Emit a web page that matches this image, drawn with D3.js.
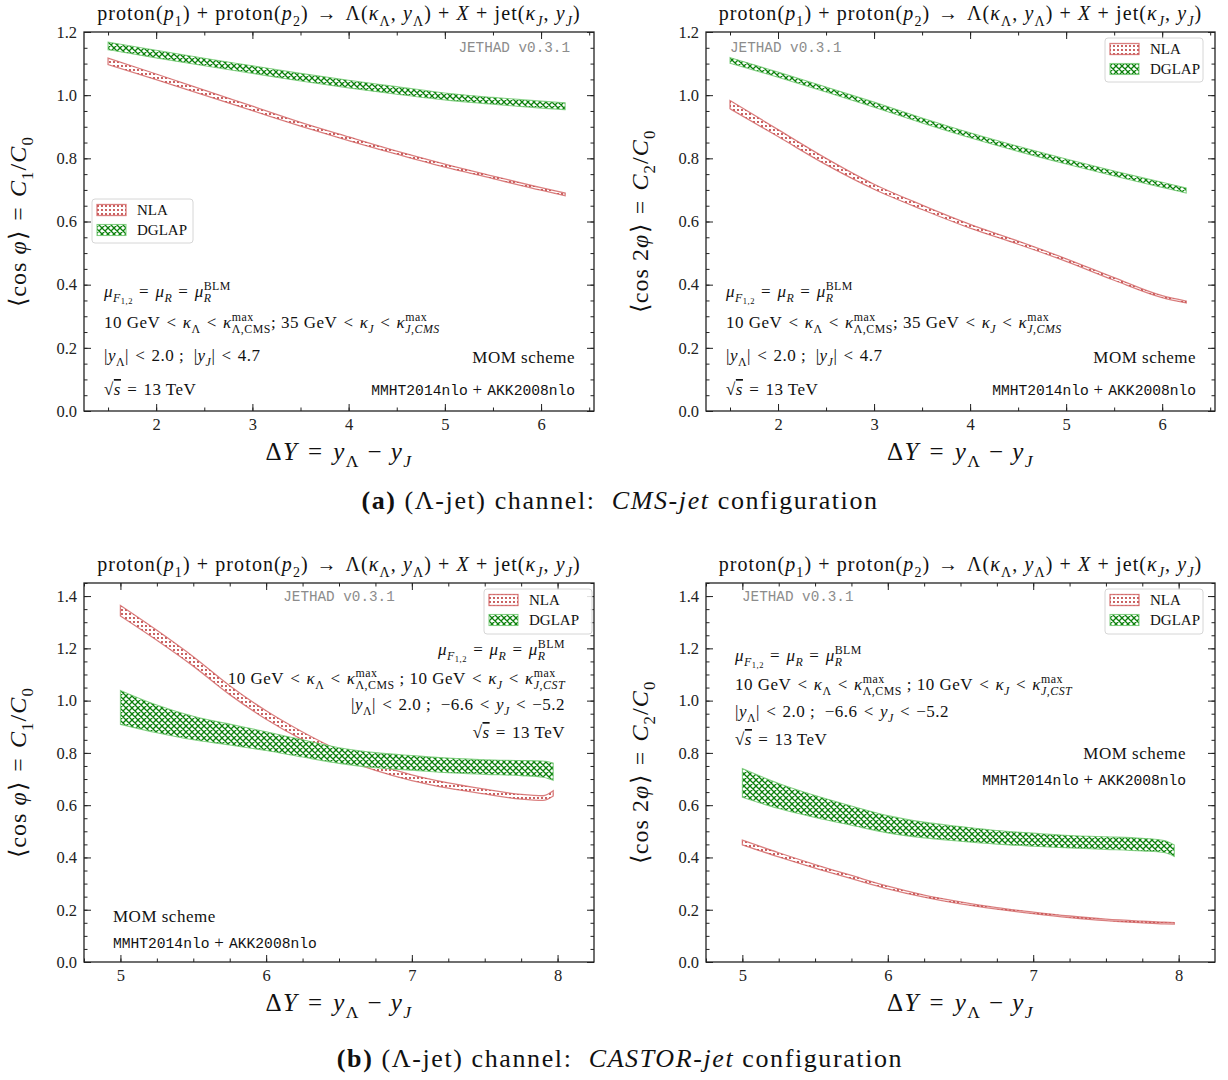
<!DOCTYPE html>
<html><head><meta charset="utf-8">
<script src="https://cdn.jsdelivr.net/npm/d3@7"></script>
<style>body{margin:0;background:#fff}text{white-space:pre}</style>
</head><body>
<svg id="c" width="1228" height="1080"></svg>
<script>
// ---------- DATA ----------
const aX = [1.5, 2, 2.5, 3, 3.5, 4, 4.5, 5, 5.5, 6, 6.25];
const aC1_NLA      = [1.107, 1.058, 1.008, 0.958, 0.908, 0.862, 0.818, 0.777, 0.740, 0.703, 0.686];
const aC1_NLA_hw   = [0.010, 0.009, 0.008, 0.007, 0.006, 0.006, 0.005, 0.005, 0.004, 0.004, 0.004];
const aC1_DGLAP    = [1.156, 1.130, 1.105, 1.081, 1.057, 1.035, 1.015, 0.996, 0.982, 0.970, 0.965];
const aC1_DGLAP_hw = [0.012, 0.012, 0.012, 0.012, 0.012, 0.012, 0.012, 0.011, 0.011, 0.011, 0.011];
const aC2_NLA      = [0.970, 0.880, 0.790, 0.710, 0.645, 0.585, 0.533, 0.478, 0.418, 0.362, 0.345];
const aC2_NLA_hw   = [0.013, 0.011, 0.010, 0.008, 0.007, 0.006, 0.005, 0.004, 0.004, 0.003, 0.003];
const aC2_DGLAP    = [1.110, 1.065, 1.018, 0.970, 0.920, 0.873, 0.830, 0.790, 0.752, 0.716, 0.698];
const aC2_DGLAP_hw = [0.009, 0.008, 0.008, 0.008, 0.008, 0.008, 0.008, 0.008, 0.008, 0.008, 0.008];

const bX = [5, 5.25, 5.5, 5.75, 6, 6.25, 6.5, 6.75, 7, 7.25, 7.5, 7.75, 7.9, 7.97];
const bC1_NLA      = [1.344, 1.250, 1.150, 1.040, 0.945, 0.865, 0.797, 0.745, 0.705, 0.675, 0.652, 0.632, 0.627, 0.645];
const bC1_NLA_hw   = [0.020, 0.019, 0.018, 0.017, 0.016, 0.015, 0.013, 0.012, 0.011, 0.010, 0.009, 0.009, 0.009, 0.010];
const bC1_DGLAP    = [0.974, 0.930, 0.895, 0.870, 0.845, 0.817, 0.790, 0.772, 0.762, 0.752, 0.746, 0.742, 0.738, 0.728];
const bC1_DGLAP_hw = [0.065, 0.053, 0.045, 0.040, 0.036, 0.033, 0.030, 0.029, 0.028, 0.028, 0.028, 0.029, 0.031, 0.033];
const bC2_NLA      = [0.457, 0.410, 0.366, 0.325, 0.285, 0.252, 0.226, 0.205, 0.188, 0.173, 0.161, 0.153, 0.149, 0.148];
const bC2_NLA_hw   = [0.009, 0.008, 0.007, 0.006, 0.005, 0.004, 0.004, 0.003, 0.003, 0.003, 0.003, 0.003, 0.003, 0.003];
const bC2_DGLAP    = [0.685, 0.635, 0.595, 0.560, 0.527, 0.505, 0.490, 0.477, 0.468, 0.460, 0.455, 0.449, 0.442, 0.426];
const bC2_DGLAP_hw = [0.055, 0.048, 0.042, 0.037, 0.033, 0.030, 0.028, 0.026, 0.025, 0.024, 0.024, 0.024, 0.023, 0.022];

const legendLabels = ["NLA", "DGLAP"];
const aYTicks = [0.0, 0.2, 0.4, 0.6, 0.8, 1.0, 1.2];
const bYTicks = [0.0, 0.2, 0.4, 0.6, 0.8, 1.0, 1.2, 1.4];
const aXTicks = [2, 3, 4, 5, 6];
const bXTicks = [5, 6, 7, 8];

// ---------- RENDER ----------
const SERIF = "'Liberation Serif','Times New Roman',serif";
const MONO = "'Liberation Mono','DejaVu Sans Mono',monospace";
const svg = d3.select("#c");
const defs = svg.append("defs");
const pd = defs.append("pattern").attr("id","dots").attr("patternUnits","userSpaceOnUse").attr("width",4).attr("height",4);
pd.append("rect").attr("width",4).attr("height",4).attr("fill","#fff");
pd.append("circle").attr("cx",2).attr("cy",2).attr("r",0.9).attr("fill","#b01818");
const px = defs.append("pattern").attr("id","xhatch").attr("patternUnits","userSpaceOnUse").attr("width",6).attr("height",6);
px.append("rect").attr("width",6).attr("height",6).attr("fill","#fff");
px.append("path").attr("d","M0,0L6,6M6,0L0,6M-1,5L1,7M5,-1L7,1M-1,1L1,-1M5,7L7,5").attr("stroke","#0b800b").attr("stroke-width",1.3).attr("fill","none");

const styles = {
  NLA: {fill:"url(#dots)", stroke:"rgba(205,85,85,0.75)", sw:1.3},
  DGLAP: {fill:"url(#xhatch)", stroke:"rgba(110,200,110,0.8)", sw:1.1}
};

// rich text: segments [type, text(, text2)]
function rich(g, x, y, segs, opt) {
  const fs = opt.size || 15;
  const t = g.append("text").attr("x", x).attr("y", y)
    .attr("font-family", opt.family || SERIF).attr("font-size", fs)
    .attr("text-anchor", opt.anchor || "start").attr("fill", opt.fill || "#111");
  if (opt.ls) t.attr("letter-spacing", opt.ls);
  if (opt.transform) t.attr("transform", opt.transform);
  let cur = 0, pendingDx = 0;
  function add(txt, off, size, italic, fam, weight, deco) {
    const ts = t.append("tspan").text(txt);
    const dy = (off - cur) * fs; cur = off;
    if (dy) ts.attr("dy", dy);
    if (pendingDx) { ts.attr("dx", pendingDx); pendingDx = 0; }
    if (size !== 1) ts.attr("font-size", fs * size);
    if (italic) ts.attr("font-style", "italic");
    if (fam) ts.attr("font-family", fam).attr("letter-spacing", 0);
    if (weight) ts.attr("font-weight", weight);
    if (deco) ts.style("text-decoration", deco);
    return ts;
  }
  segs.forEach(s => {
    const [k, a, b] = s;
    if (k === "r") add(a, 0, 1, false);
    else if (k === "i") add(a, 0, 1, true);
    else if (k === "io") add(a, 0, 1, true, null, null, "overline");
    else if (k === "b") add(a, 0, 1, false, null, "bold");
    else if (k === "tt") add(a, 0, 0.86, false, MONO);
    else if (k === "sub") add(a, 0.28, 0.7, false);
    else if (k === "isub") add(a, 0.28, 0.7, true);
    else if (k === "sub2") add(a, 0.42, 0.5, false);
    else if (k === "sup") add(a, -0.42, 0.7, false);
    else if (k === "ss" || k === "iss") {
      const up = add(a, -0.4, 0.7, false);
      const l1 = up.node().getComputedTextLength();
      pendingDx = -l1;
      const dn = add(b, 0.3, 0.7, k === "iss");
      const l2 = dn.node().getComputedTextLength();
      if (l1 > l2) pendingDx = l1 - l2;
    }
  });
  return t;
}

const R = "\u2004"; // relation spacing
const titleSegs = [["r","proton("],["i","p"],["sub","1"],["r",") + proton("],["i","p"],["sub","2"],["r",`)${R}→${R}Λ(`],["i","κ"],["sub","Λ"],["r",", "],["i","y"],["sub","Λ"],["r",") + "],["i","X"],["r"," + jet("],["i","κ"],["isub","J"],["r",", "],["i","y"],["isub","J"],["r",")"]];
const xlabSegs = [["r","Δ"],["i","Y"],["r",`${R}=${R}`],["i","y"],["sub","Λ"],["r"," − "],["i","y"],["isub","J"]];
const yC1Segs = [["r","⟨cos "],["i","φ"],["r",`⟩${R}=${R}`],["i","C"],["sub","1"],["r","/"],["i","C"],["sub","0"]];
const yC2Segs = [["r","⟨cos 2"],["i","φ"],["r",`⟩${R}=${R}`],["i","C"],["sub","2"],["r","/"],["i","C"],["sub","0"]];
const muSegs = [["i","μ"],["isub","F"],["sub2","1,2"],["r",`${R}=${R}`],["i","μ"],["isub","R"],["r",`${R}=${R}`],["i","μ"],["iss","BLM","R"]];
const kCMS = [["r",`10 GeV${R}<${R}`],["i","κ"],["sub","Λ"],["r",`${R}<${R}`],["i","κ"],["ss","max","Λ,CMS"],["r",`; 35 GeV${R}<${R}`],["i","κ"],["isub","J"],["r",`${R}<${R}`],["i","κ"],["iss","max","J,CMS"]];
const kCST = [["r",`10 GeV${R}<${R}`],["i","κ"],["sub","Λ"],["r",`${R}<${R}`],["i","κ"],["ss","max","Λ,CMS"],["r",` ; 10 GeV${R}<${R}`],["i","κ"],["isub","J"],["r",`${R}<${R}`],["i","κ"],["iss","max","J,CST"]];
const yCMS = [["r","|"],["i","y"],["sub","Λ"],["r",`|${R}<${R}2.0 ;  |`],["i","y"],["isub","J"],["r",`|${R}<${R}4.7`]];
const yCST = [["r","|"],["i","y"],["sub","Λ"],["r",`|${R}<${R}2.0 ;  −6.6${R}<${R}`],["i","y"],["isub","J"],["r",`${R}<${R}−5.2`]];
const sqrtS = [["r","√"],["io","s"],["r",`${R}=${R}13 TeV`]];
const pdfSegs = [["tt","MMHT2014nlo"],["r"," + "],["tt","AKK2008nlo"]];

const panels = [
  {L:84, R:594, T:32, B:411, xd:[1.25,6.55], yd:[0,1.2], xt:aXTicks, yt:aYTicks, xmin:0.5, X:aX,
   nla:aC1_NLA, nlaw:aC1_NLA_hw, dg:aC1_DGLAP, dgw:aC1_DGLAP_hw, ylab:yC1Segs,
   leg:{x:92,y:199,w:101,h:44}, jet:{x:570,y:52,a:"end"},
   notes:[[muSegs,104,297,"start"],[kCMS,104,328,"start"],[yCMS,104,361,"start"],[sqrtS,104,395,"start"],[[["r","MOM scheme"]],575,363,"end"],[pdfSegs,575,395,"end"]]},
  {L:706, R:1215, T:32, B:411, xd:[1.25,6.55], yd:[0,1.2], xt:aXTicks, yt:aYTicks, xmin:0.5, X:aX,
   nla:aC2_NLA, nlaw:aC2_NLA_hw, dg:aC2_DGLAP, dgw:aC2_DGLAP_hw, ylab:yC2Segs,
   leg:{x:1105,y:38,w:98,h:44}, jet:{x:730,y:52,a:"start"},
   notes:[[muSegs,726,297,"start"],[kCMS,726,328,"start"],[yCMS,726,361,"start"],[sqrtS,726,395,"start"],[[["r","MOM scheme"]],1196,363,"end"],[pdfSegs,1196,395,"end"]]},
  {L:84, R:594, T:583, B:962, xd:[4.75,8.25], yd:[0,1.45], xt:bXTicks, yt:bYTicks, xmin:0.25, X:bX,
   nla:bC1_NLA, nlaw:bC1_NLA_hw, dg:bC1_DGLAP, dgw:bC1_DGLAP_hw, ylab:yC1Segs,
   leg:{x:484,y:589,w:108,h:45}, jet:{x:339,y:601,a:"middle"},
   notes:[[muSegs,565,655,"end"],[kCST,565,684,"end"],[yCST,565,710,"end"],[sqrtS,565,738,"end"],[[["r","MOM scheme"]],113,922,"start"],[pdfSegs,113,948,"start"]]},
  {L:706, R:1215, T:583, B:962, xd:[4.75,8.25], yd:[0,1.45], xt:bXTicks, yt:bYTicks, xmin:0.25, X:bX,
   nla:bC2_NLA, nlaw:bC2_NLA_hw, dg:bC2_DGLAP, dgw:bC2_DGLAP_hw, ylab:yC2Segs,
   leg:{x:1105,y:589,w:98,h:45}, jet:{x:742,y:601,a:"start"},
   notes:[[muSegs,735,661,"start"],[kCST,735,690,"start"],[yCST,735,717,"start"],[sqrtS,735,745,"start"],[[["r","MOM scheme"]],1186,759,"end"],[pdfSegs,1186,785,"end"]]}
];

panels.forEach(p => {
  const g = svg.append("g");
  const x = d3.scaleLinear().domain(p.xd).range([p.L, p.R]);
  const y = d3.scaleLinear().domain(p.yd).range([p.B, p.T]);
  const clipId = "clip" + p.L + p.T;
  defs.append("clipPath").attr("id", clipId).append("rect").attr("x",p.L).attr("y",p.T).attr("width",p.R-p.L).attr("height",p.B-p.T);
  const area = (c, w) => d3.area().curve(d3.curveMonotoneX)
    .x((d,i) => x(p.X[i])).y0((d,i) => y(c[i]-w[i])).y1((d,i) => y(c[i]+w[i]));
  const pg = g.append("g").attr("clip-path", `url(#${clipId})`);
  [["NLA", p.nla, p.nlaw], ["DGLAP", p.dg, p.dgw]].forEach(([k, c, w]) => {
    const st = styles[k];
    pg.append("path").datum(c).attr("d", area(c, w)).attr("fill", st.fill)
      .attr("stroke", st.stroke).attr("stroke-width", st.sw);
  });
  // axes
  const tl = 7, tm = 3.5;
  const xMinor = d3.range(Math.ceil(p.xd[0]/p.xmin)*p.xmin, p.xd[1], p.xmin);
  const yMinor = d3.range(0, p.yd[1]+1e-9, 0.05);
  const fmtY = d3.format(".1f");
  const axB = d3.axisBottom(x).tickValues(p.xt).tickSize(-tl).tickPadding(7).tickFormat(d3.format("d"));
  const axT = d3.axisTop(x).tickValues(p.xt).tickSize(-tl).tickFormat("");
  const axL = d3.axisLeft(y).tickValues(p.yt).tickSize(-tl).tickPadding(7).tickFormat(fmtY);
  const axR = d3.axisRight(y).tickValues(p.yt).tickSize(-tl).tickFormat("");
  const mB = d3.axisBottom(x).tickValues(xMinor).tickSize(-tm).tickFormat("");
  const mT = d3.axisTop(x).tickValues(xMinor).tickSize(-tm).tickFormat("");
  const mL = d3.axisLeft(y).tickValues(yMinor).tickSize(-tm).tickFormat("");
  const mR = d3.axisRight(y).tickValues(yMinor).tickSize(-tm).tickFormat("");
  const put = (ax, tr) => {
    const a = g.append("g").attr("transform", tr).call(ax);
    a.select(".domain").remove();
    a.selectAll("line").attr("stroke","#222").attr("stroke-width",1);
    a.selectAll("text").attr("font-family", SERIF).attr("font-size", 16.5).attr("fill","#222");
    return a;
  };
  put(mB, `translate(0,${p.B})`); put(mT, `translate(0,${p.T})`);
  put(mL, `translate(${p.L},0)`); put(mR, `translate(${p.R},0)`);
  put(axB, `translate(0,${p.B})`); put(axT, `translate(0,${p.T})`);
  put(axL, `translate(${p.L},0)`); put(axR, `translate(${p.R},0)`);
  g.append("rect").attr("x",p.L).attr("y",p.T).attr("width",p.R-p.L).attr("height",p.B-p.T)
    .attr("fill","none").attr("stroke","#222").attr("stroke-width",1.3);
  // titles
  const cx = (p.L + p.R) / 2;
  rich(g, cx, p.T - 12, titleSegs, {size:20, anchor:"middle", ls:1.1});
  rich(g, cx, p.B + 49, xlabSegs, {size:25, anchor:"middle", ls:1.4});
  const cy = (p.T + p.B) / 2;
  rich(g, 0, 0, p.ylab, {size:24, anchor:"middle", ls:1.1, transform:`translate(${p.L-58},${cy}) rotate(-90)`});
  // jethad
  g.append("text").attr("x",p.jet.x).attr("y",p.jet.y).attr("text-anchor",p.jet.a)
    .attr("font-family",MONO).attr("font-size",14.3).attr("fill","#8c8c8c").text("JETHAD v0.3.1");
  // notes
  p.notes.forEach(([segs, nx, ny, an]) => rich(g, nx, ny, segs, {size:17, anchor:an, ls:0.5}));
  // legend
  const lg = g.append("g");
  lg.append("rect").attr("x",p.leg.x).attr("y",p.leg.y).attr("width",p.leg.w).attr("height",p.leg.h)
    .attr("rx",3).attr("fill","rgba(255,255,255,0.85)").attr("stroke","#d6d6d6").attr("stroke-width",1);
  legendLabels.forEach((lab, i) => {
    const st = styles[lab];
    const ry = p.leg.y + 11 + i * 20;
    lg.append("rect").attr("x", p.leg.x + 5).attr("y", ry - 5.5).attr("width", 29).attr("height", 11)
      .attr("fill", st.fill).attr("stroke", st.stroke).attr("stroke-width", st.sw);
    lg.append("text").attr("x", p.leg.x + 45).attr("y", ry + 5).attr("font-family", SERIF)
      .attr("font-size", 15).attr("fill","#111").text(lab);
  });
});

// captions
rich(svg, 620, 509, [["b","(a)"],["r"," (Λ-jet) channel:  "],["i","CMS-jet"],["r"," configuration"]], {size:26, anchor:"middle", ls:1.6});
rich(svg, 620, 1067, [["b","(b)"],["r"," (Λ-jet) channel:  "],["i","CASTOR-jet"],["r"," configuration"]], {size:26, anchor:"middle", ls:1.6});
</script>
</body></html>
